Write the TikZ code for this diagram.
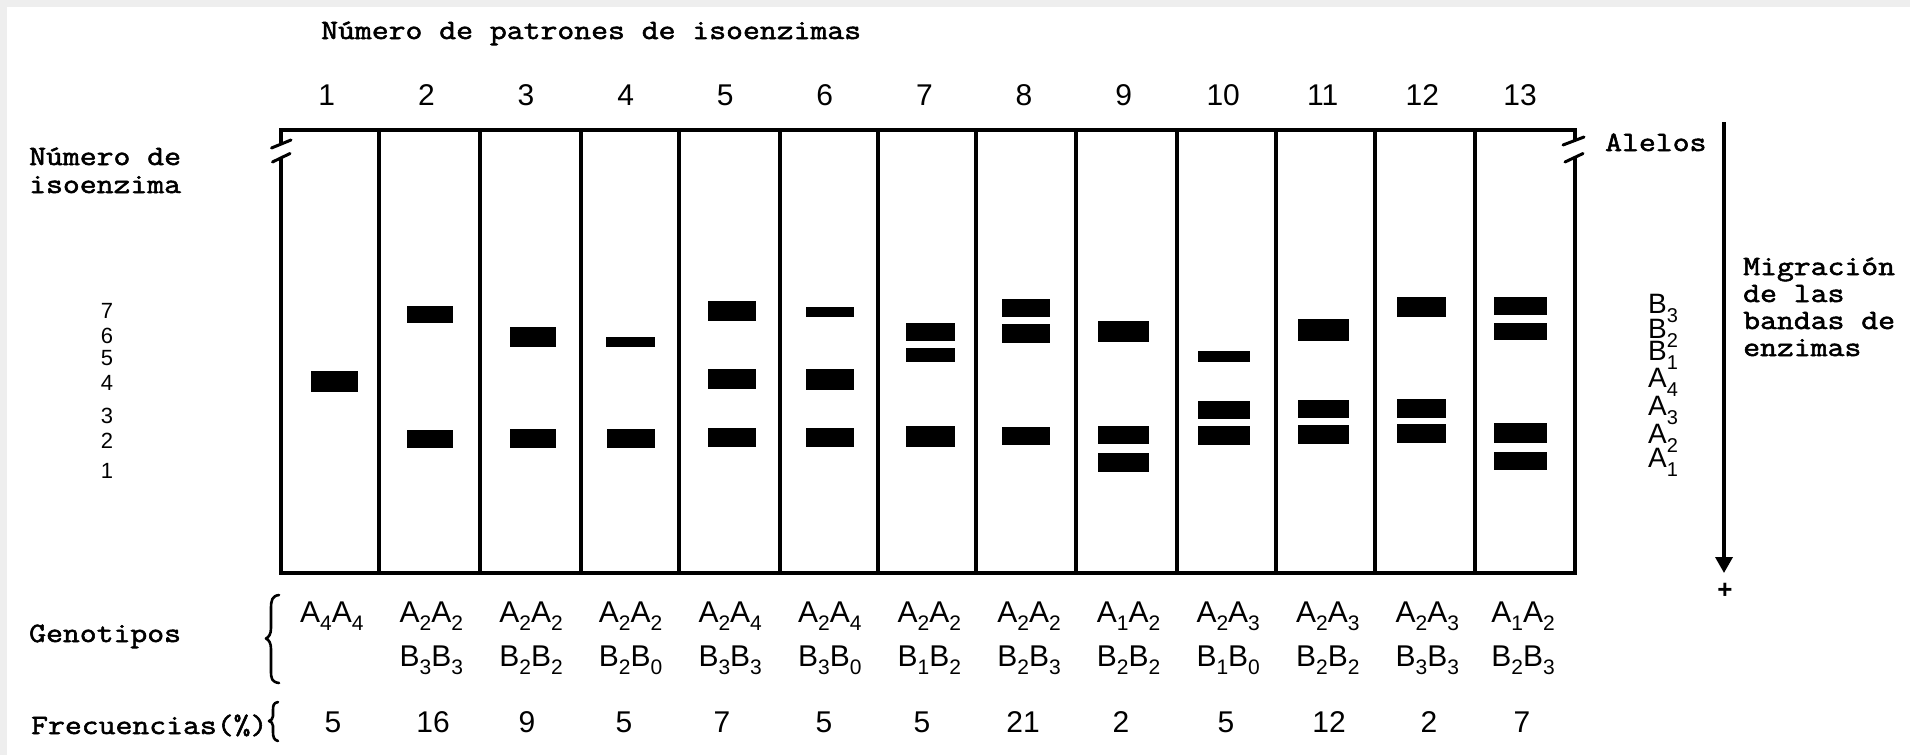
\documentclass[tikz,border=0pt]{standalone}
\usepackage{fontspec}
\setmainfont{Liberation Sans}
\newfontfamily\twfont[FakeBold=2,FakeStretch=1.17]{Latin Modern Mono}
\usetikzlibrary{arrows.meta}
\definecolor{bggray}{RGB}{238,238,238}
\newcommand{\subfs}{\fontsize{21}{21}\selectfont}
\newcommand{\geno}[4]{#1\raisebox{-8pt}[0pt][0pt]{\subfs #2}#3\raisebox{-8pt}[0pt][0pt]{\subfs #4}}
\newcommand{\alab}[2]{#1\raisebox{-9pt}[0pt][0pt]{\fontsize{20}{20}\selectfont #2}}
\tikzset{
  frameline/.style={line width=4pt, line join=miter},
  divline/.style={line width=4pt},
  slashline/.style={line width=3pt, line cap=round},
  bandfill/.style={fill=black},
  twtext/.style={inner sep=0pt, font={\twfont\fontsize{28}{28}\selectfont}},
  numtext/.style={inner sep=0pt, font={\fontsize{30}{30}\selectfont}},
  isotext/.style={inner sep=0pt, font={\fontsize{22}{22}\selectfont}},
  genotext/.style={inner sep=0pt, font={\fontsize{30}{30}\selectfont}},
  alltext/.style={inner sep=0pt, font={\fontsize{28}{28}\selectfont}},
  bracestyle/.style={line width=2.6pt, line cap=round, line join=round},
  migarrow/.style={line width=3.5pt, -{Triangle[width=17pt,length=16pt]}}
}
\begin{document}
\begin{tikzpicture}[x=1pt,y=-1pt]
\useasboundingbox (0,0) rectangle (1910,755);
\fill[bggray] (0,0) rectangle (1910,755);
\fill[white] (7,7) rectangle (1910,755);

% frame with breaks
\draw[frameline] (280.5,143) -- (280.5,130) -- (1574.5,130) -- (1574.5,141);
\draw[frameline] (280.5,157.5) -- (280.5,573) -- (1574.5,573) -- (1574.5,157.5);
\draw[slashline] (271.5,148) -- (291,140);
\draw[slashline] (272.5,162) -- (290,153.5);
\draw[slashline] (1563,145) -- (1584,137);
\draw[slashline] (1565,162) -- (1583,153.5);

% lane dividers
\foreach \x in {378.6,479.6,580.6,678.6,779.6,877.6,975.6,1076.4,1177.2,1275.5,1375,1474.5}
  \draw[divline] (\x,130) -- (\x,573);

% bands
\foreach \xa/\xb/\ya/\yb in {
  311/358/370.7/392,
  406.6/452.6/305.7/322.7, 406.6/452.6/430/448.3,
  510/556/326.7/346.7, 510/556/429.3/448.3,
  606/654.6/337.3/347.3, 607/654.6/429/447.7,
  707.6/756/301/320.7, 707.6/756/369.3/389.3, 707.6/756/428/447.3,
  806/853.6/306.7/317.3, 806/854/368.7/390, 806/854/428/447.3,
  905.6/955/322.7/340.7, 905.6/955/348.3/362.3, 905.6/955/426/446.7,
  1001.8/1049.5/299/317.3, 1001.8/1049.5/324.3/343.3, 1001.8/1049.5/426.7/445,
  1098/1149/320.7/341.7, 1098/1149/426/444, 1098/1149/452.7/471.7,
  1197.5/1249.8/350.7/361.7, 1197.5/1249.8/400.7/419.3, 1197.5/1249.8/425.7/445,
  1298/1348.8/319.3/340.7, 1298/1348.8/400/418.3, 1298/1348.8/425/444,
  1397/1446/296.7/316.7, 1397/1446/399.3/417.7, 1397/1446/424/443.3,
  1494.4/1547/296.7/315, 1494.4/1547/323.3/340, 1494.4/1547/422.7/443.3, 1494.4/1547/451.7/470}
  \fill[bandfill] (\xa,\ya) rectangle (\xb,\yb);

% title and column numbers
\node[twtext, anchor=base west] (title) at (321,39) {Número de patrones de isoenzimas};
\foreach \i/\cx in {1/329.8,2/429.4,3/529,4/628.6,5/728.2,6/827.8,7/927.4,8/1027,9/1126.6,10/1226.2,11/1325.8,12/1425.4,13/1523}
  \node[numtext, anchor=base] (col\i) at (\cx-3,105) {\i};

% left labels
\node[twtext, anchor=base west] (isoA) at (29,165) {Número de};
\node[twtext, anchor=base west] (isoB) at (29,193) {isoenzima};
\foreach \d/\yy in {7/318,6/343,5/365,4/390,3/423,2/448,1/478}
  \node[isotext, anchor=base] (iso\d) at (107,\yy) {\d};

% right labels
\node[twtext, anchor=base west] (alelos) at (1605,151) {Alelos};
\node[alltext, anchor=base west] (lB3) at (1648,313) {\alab{B}{3}};
\node[alltext, anchor=base west] (lB2) at (1648,338) {\alab{B}{2}};
\node[alltext, anchor=base west] (lB1) at (1648,360) {\alab{B}{1}};
\node[alltext, anchor=base west] (lA4) at (1648,387) {\alab{A}{4}};
\node[alltext, anchor=base west] (lA3) at (1648,415) {\alab{A}{3}};
\node[alltext, anchor=base west] (lA2) at (1648,443) {\alab{A}{2}};
\node[alltext, anchor=base west] (lA1) at (1648,467) {\alab{A}{1}};

\coordinate (mtop) at (1724,122);
\coordinate (mbot) at (1724,573);
\draw[migarrow] (mtop) -- (mbot);
\node[inner sep=0pt, font={\bfseries\fontsize{26}{26}\selectfont}] (plus) at (1725,591) {+};
\node[twtext, anchor=base west] (mig1) at (1743,275) {Migración};
\node[twtext, anchor=base west] (mig2) at (1743,302) {de las};
\node[twtext, anchor=base west] (mig3) at (1743,329) {bandas de};
\node[twtext, anchor=base west] (mig4) at (1743,356) {enzimas};

% bottom labels
\node[twtext, anchor=base west] (genot) at (29,642) {Genotipos};
\node[twtext, anchor=base west] (frec) at (31,734) {Frecuencias(\%)};
\draw[bracestyle] (279,595) .. controls (272,596) and (271,600) .. (271,609) -- (271,628)
   .. controls (271,634) and (269,637) .. (266,638.5) .. controls (269,640) and (271,643) .. (271,649)
   -- (271,671) .. controls (271,679) and (272,682) .. (279,683);
\draw[bracestyle] (278,702) .. controls (273,703) and (273,706) .. (273,711) -- (273,716)
   .. controls (273,719) and (271,720.5) .. (269,721) .. controls (271,721.5) and (273,723) .. (273,726)
   -- (273,732) .. controls (273,737) and (274,740) .. (278,741);

% genotypes
\foreach \i/\cx/\ra/\rb/\rc/\rd in {
  1/331.8/A/4/A/4, 2/431.4/A/2/A/2, 3/531/A/2/A/2, 4/630.6/A/2/A/2, 5/730.2/A/2/A/4,
  6/829.8/A/2/A/4, 7/929.4/A/2/A/2, 8/1029/A/2/A/2, 9/1128.6/A/1/A/2, 10/1228.2/A/2/A/3,
  11/1327.8/A/2/A/3, 12/1427.4/A/2/A/3, 13/1523/A/1/A/2}
  \node[genotext, anchor=base] (ga\i) at (\cx,622) {\geno{\ra}{\rb}{\rc}{\rd}};
\foreach \i/\cx/\ra/\rb/\rc/\rd in {
  2/431.4/B/3/B/3, 3/531/B/2/B/2, 4/630.6/B/2/B/0, 5/730.2/B/3/B/3,
  6/829.8/B/3/B/0, 7/929.4/B/1/B/2, 8/1029/B/2/B/3, 9/1128.6/B/2/B/2, 10/1228.2/B/1/B/0,
  11/1327.8/B/2/B/2, 12/1427.4/B/3/B/3, 13/1523/B/2/B/3}
  \node[genotext, anchor=base] (gb\i) at (\cx,666) {\geno{\ra}{\rb}{\rc}{\rd}};

% frequencies
\foreach \i/\cx/\f in {1/333/5,2/433/16,3/527/9,4/624/5,5/722/7,6/824/5,7/922/5,8/1023/21,9/1121/2,10/1226/5,11/1329/12,12/1429/2,13/1522/7}
  \node[numtext, anchor=base] (fr\i) at (\cx,732) {\f};
\end{tikzpicture}
\end{document}
